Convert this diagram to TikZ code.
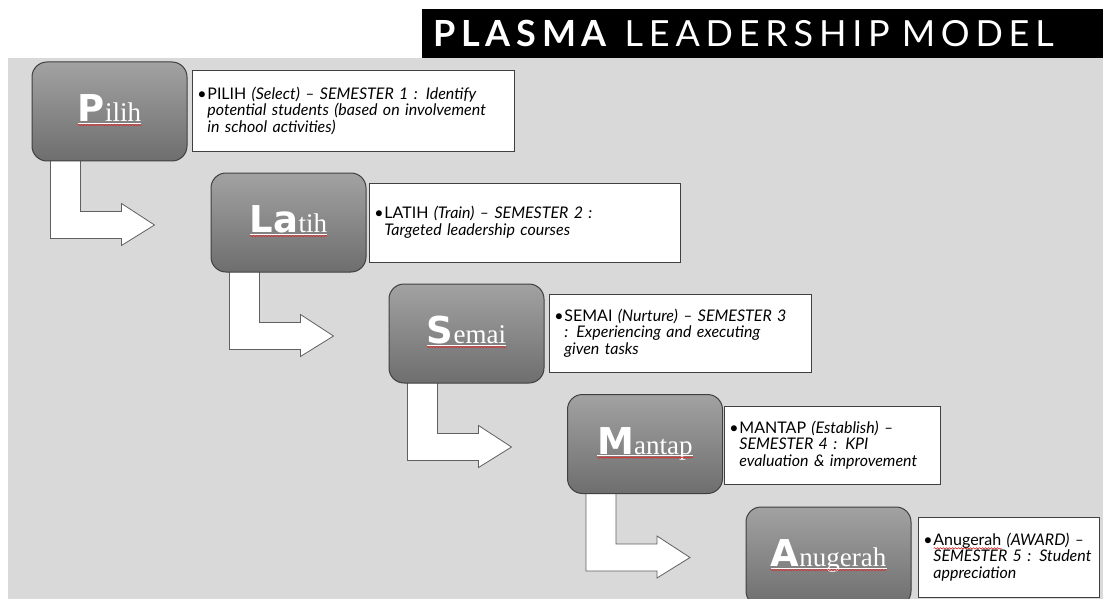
\documentclass[tikz,border=0pt]{standalone}
\usepackage{fontspec}
\setmainfont{Lato}
\newfontfamily\heavyfont{DejaVu Sans}
\newfontfamily\seriffont{Liberation Serif}
\newfontfamily\titlefont[LetterSpace=16]{Lato}
\usepackage{tikz}
\usetikzlibrary{decorations.pathmorphing}
\usetikzlibrary{arrows}
\definecolor{plasmabg}{RGB}{217,217,217}
\definecolor{boxtop}{RGB}{162,162,162}
\definecolor{boxbot}{RGB}{110,110,110}
\definecolor{boxline}{RGB}{64,64,64}
\definecolor{arrline}{RGB}{96,96,96}
\definecolor{squigred}{RGB}{224,40,40}
\newsavebox{\wavebox}
\newcommand{\redwave}[1]{\sbox{\wavebox}{#1}%
  \rlap{\tikz[baseline={(0pt,3pt)}]\draw[plasma_squig] (0pt,0pt) -- (\wd\wavebox,0pt);}\usebox{\wavebox}}
\newcommand{\bul}{\makebox[10pt][l]{\textbullet}}
\newcommand{\contline}{\hspace*{10pt}}
\newcommand{\steplbl}[2]{{\heavyfont\bfseries\fontsize{37}{37}\selectfont #1}{\seriffont\fontsize{27}{27}\selectfont #2}}
\newcommand{\bentarrow}[1]{%
  \draw[plasma_arr] ([xshift=19pt,yshift=3pt]#1.south west) -- ++(0,80) -- ++(71,0) -- ++(0,7)
    -- ++(33,-20.5) -- ++(-33,-21.5) -- ++(0,8) -- ++(-41,0) -- ++(0,-53) -- cycle;}
\newcommand{\squiggle}[1]{%
  \draw[white, line width=0.8pt] ([yshift=-1.5pt]#1.base west) -- ([yshift=-1.5pt]#1.base east);
  \draw[plasma_squig] ([yshift=-3.5pt]#1.base west) -- ([yshift=-3.5pt]#1.base east);}
\pgfdeclarelayer{backdrop}
\pgfdeclarelayer{arrows}
\pgfsetlayers{backdrop,arrows,main}
\tikzset{
  plasma_box/.style = {rectangle, rounded corners=15pt, draw=boxline, line width=1pt,
    top color=boxtop, bottom color=boxbot, minimum width=155pt, minimum height=99pt},% etape
  plasma_lbl/.style = {text=white, inner sep=0pt, anchor=base},
  plasma_txt/.style = {rectangle, draw=boxline, line width=0.8pt, fill=white, anchor=west,
    align=left, inner xsep=5pt, font=\fontsize{16}{16.5}\selectfont},% texte
  plasma_arr/.style = {draw=arrline, line width=0.8pt, fill=white, line join=miter},
  plasma_squig/.style = {squigred, line width=0.6pt, decorate,
    decoration={snake, segment length=3pt, amplitude=0.7pt}},
  title_bar/.style = {rectangle, text=white, fill=black, anchor=west, align=left,
    minimum height=49pt, text width=659pt, inner xsep=11pt,
    font=\titlefont\fontsize{36}{36}\selectfont},
}

\begin{document}
\begin{tikzpicture}[x=1pt,y=-1pt]
  \useasboundingbox (0,0) rectangle (1103,599);
  \begin{pgfonlayer}{backdrop}
    \fill[plasmabg] (8,58) rectangle (1103,599);
  \end{pgfonlayer}

  \node[title_bar] (title) at (422,33.5) {\textbf{PLASMA} LEADERSHIP MODEL};

  %   steps
  \node[plasma_box] (pilih) at (109.5,111.5) {};
  \node[plasma_box] (latih) at (288.5,222.5) {};
  \node[plasma_box] (semai) at (466.5,333.5) {};
  \node[plasma_box] (mantap) at (645,444) {};
  \node[plasma_box, minimum width=165pt] (anugerah) at (828.5,556.5) {};

  \node[plasma_lbl] (pilih_l) at ([yshift=-10pt]pilih.center) {\steplbl{P}{ilih}};
  \node[plasma_lbl] (latih_l) at ([yshift=-10pt]latih.center) {\steplbl{La}{tih}};
  \node[plasma_lbl] (semai_l) at ([yshift=-10pt]semai.center) {\steplbl{S}{emai}};
  \node[plasma_lbl] (mantap_l) at ([yshift=-10pt]mantap.center) {\steplbl{M}{antap}};
  \node[plasma_lbl] (anugerah_l) at ([yshift=-10pt]anugerah.center) {\steplbl{A}{nugerah}};
  \squiggle{pilih_l}
  \squiggle{latih_l}
  \squiggle{semai_l}
  \squiggle{mantap_l}
  \squiggle{anugerah_l}

  %   descriptions
  \node[plasma_txt, text width=312pt, minimum height=81pt] (pilih_t) at (192,110.5)
    {\bul PILIH \textit{(Select) -- SEMESTER 1 : Identify}\\
     \contline\textit{potential students (based on involvement}\\
     \contline\textit{in school activities)}};
  \node[plasma_txt, text width=301pt, minimum height=79pt] (latih_t) at (369,222.5)
    {\bul LATIH \textit{(Train) -- SEMESTER 2 :}\\
     \contline\textit{Targeted leadership courses}};
  \node[plasma_txt, text width=252pt, minimum height=78pt] (semai_t) at (549,333)
    {\bul SEMAI \textit{(Nurture) -- SEMESTER 3}\\
     \contline\textit{: Experiencing and executing}\\
     \contline\textit{given tasks}};
  \node[plasma_txt, text width=206pt, minimum height=78pt] (mantap_t) at (724,445)
    {\bul MANTAP \textit{(Establish) --}\\
     \contline\textit{SEMESTER 4 : KPI}\\
     \contline\textit{evaluation \& improvement}};
  \node[plasma_txt, text width=171pt, minimum height=80pt] (anugerah_t) at (918,557)
    {\bul \redwave{Anugerah} \textit{(AWARD) --}\\
     \contline\textit{SEMESTER 5 : Student}\\
     \contline\textit{appreciation}};

  %   arrows
  \begin{pgfonlayer}{arrows}
    \bentarrow{pilih}
    \bentarrow{latih}
    \bentarrow{semai}
    \bentarrow{mantap}
  \end{pgfonlayer}
\end{tikzpicture}
\end{document}
